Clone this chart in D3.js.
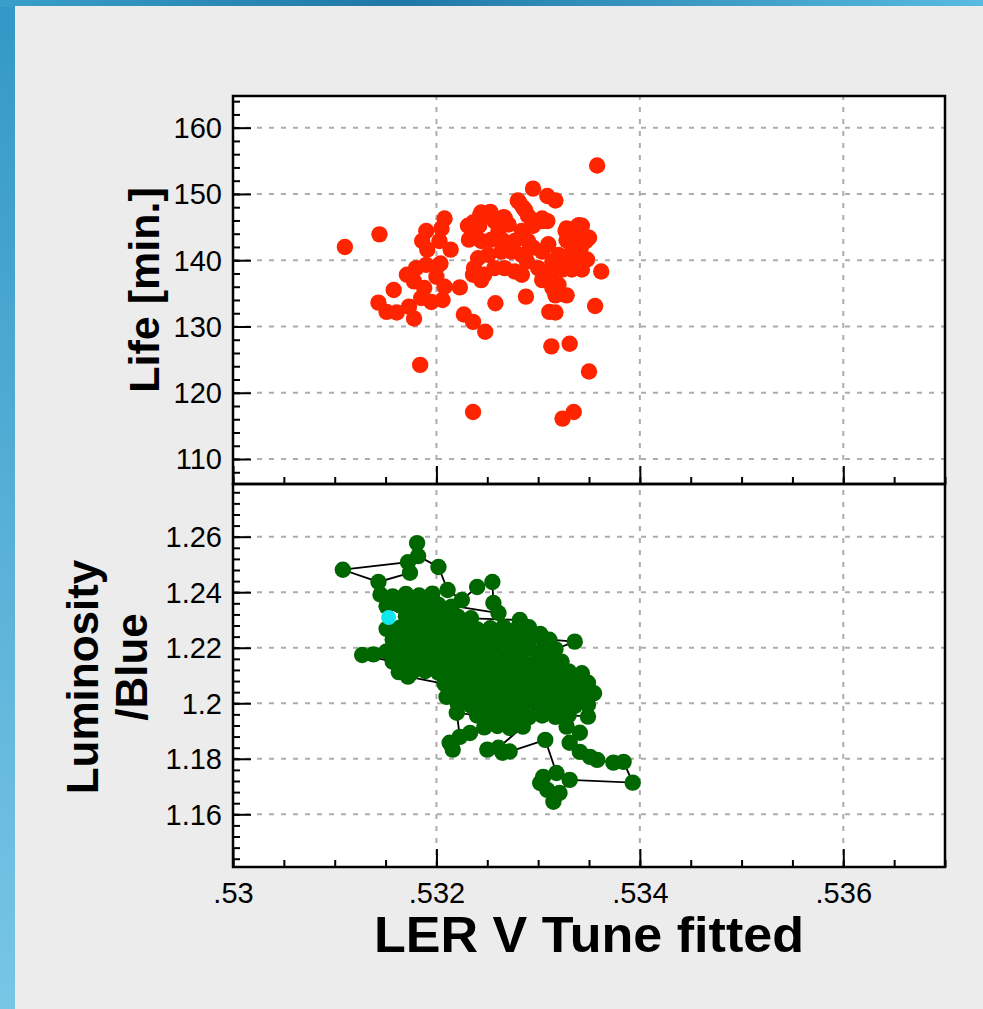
<!DOCTYPE html>
<html><head><meta charset="utf-8">
<script src="https://cdn.jsdelivr.net/npm/d3@7"></script>
<style>html,body{margin:0;padding:0;overflow:hidden;background:#ececec}</style>
</head><body>
<svg id="c" width="983" height="1009"></svg>
<script>
const xTickValues=[0.530,0.532,0.534,0.536];
const xTickLabels=[".53",".532",".534",".536"];
const lifeTickValues=[110,120,130,140,150,160];
const lifeTickLabels=["110","120","130","140","150","160"];
const lumTickValues=[1.16,1.18,1.20,1.22,1.24,1.26];
const lumTickLabels=["1.16","1.18","1.2","1.22","1.24","1.26"];
const xTitle="LER V Tune fitted";
const lifeTitle="Life [min.]";
const lumTitle=["Luminosity","/Blue"];

const lifePoints=[
[0.53358,154.3],[0.53110,142.0],[0.53144,143.9],[0.53184,124.2],[0.53236,117.1],[0.53324,116.1],[0.53335,117.1],[0.53350,123.2],[0.53313,127.0],[0.53331,127.4],[0.53356,133.1],[0.53295,150.8],[0.53309,149.7],[0.53317,149.0],[0.53362,138.3],[0.53258,133.5],[0.53288,134.5],[0.53248,129.2],[0.53214,141.6],[0.53223,135.9],[0.53158,135.5],[0.53311,132.2],[0.53317,132.1],[0.53208,146.3],[0.53227,131.8],[0.53236,130.7],
[0.53143,133.6],[0.53151,132.2],[0.53161,132.1],[0.53173,133.0],[0.53178,131.2],
[0.53180,138.8],[0.53190,139.3],[0.53178,136.8],[0.53188,135.8],[0.53195,133.7],[0.53206,134.0],[0.53208,136.0],[0.53200,137.5],[0.53185,134.3],[0.53201,139.1],[0.53171,137.8],
[0.53190,144.4],[0.53191,141.6],[0.53203,142.9],[0.53205,144.8],[0.53186,142.9],[0.53204,139.5],
[0.53244,147.2],[0.53251,146.7],[0.53236,145.7],[0.53231,145.2],[0.53232,143.1],[0.53242,145.2],[0.53257,145.9],[0.53267,146.4],[0.53271,145.4],[0.53261,144.4],[0.53254,143.1],[0.53244,142.9],[0.53266,142.9],[0.53280,149.0],[0.53285,148.0],[0.53290,146.7],[0.53295,145.2],[0.53304,145.9],[0.53309,145.9],[0.53284,144.4],[0.53277,142.9],[0.53290,142.9],[0.53295,141.9],[0.53304,141.3],[0.53310,142.4],[0.53274,141.3],[0.53284,140.8],[0.53289,139.8],[0.53264,141.3],[0.53251,140.8],[0.53241,140.3],[0.53237,138.8],[0.53247,137.8],[0.53244,137.0],[0.53257,138.8],[0.53267,138.8],[0.53277,138.3],[0.53284,137.8],[0.53300,138.8],[0.53307,137.8],[0.53304,137.0],[0.53314,138.3],[0.53324,138.6],[0.53333,138.6],[0.53343,138.6],[0.53320,136.3],[0.53328,134.7],[0.53317,134.7],[0.53314,135.8],[0.53327,144.4],[0.53337,144.9],[0.53343,145.2],[0.53350,143.4],[0.53337,142.9],[0.53342,141.9],[0.53347,142.9],[0.53333,141.3],[0.53320,140.8],[0.53314,139.8],[0.53327,139.8],[0.53337,139.8],[0.53348,140.1],[0.53236,137.8],
[0.53281,148.8],[0.53287,147.6],[0.53295,146.0],[0.53304,146.3],[0.53243,146.8],[0.53253,147.3],[0.53266,146.5],[0.53238,144.5],[0.53328,144.8],[0.53340,145.3],[0.53346,143.5],[0.53328,143.0]
];

const lumPoints=[
[0.53174,1.2470],[0.53143,1.2437],[0.53108,1.2481],[0.53172,1.2508],[0.53181,1.2577],[0.53182,1.2530],[0.53202,1.2491],[0.53211,1.2408],[0.53225,1.2372],[0.53240,1.2419],[0.53255,1.2437],[0.53256,1.2361],[0.53261,1.2325],
[0.53145,1.2392],[0.53157,1.2385],[0.53170,1.2394],[0.53183,1.2388],[0.53196,1.2395],
[0.53215,1.2348],[0.53202,1.2355],[0.53189,1.2350],[0.53176,1.2346],[0.53164,1.2353],[0.53151,1.2349],
[0.53170,1.2313],[0.53183,1.2308],[0.53196,1.2315],[0.53208,1.2309],[0.53221,1.2312],[0.53234,1.2306],[0.53282,1.2300],
[0.53291,1.2274],[0.53279,1.2268],[0.53266,1.2275],[0.53253,1.2270],[0.53240,1.2266],[0.53228,1.2273],[0.53215,1.2269],[0.53202,1.2276],[0.53189,1.2270],[0.53176,1.2265],[0.53164,1.2272],[0.53151,1.2268],
[0.53157,1.2230],[0.53170,1.2235],[0.53183,1.2228],[0.53196,1.2233],[0.53208,1.2237],[0.53221,1.2229],[0.53234,1.2234],[0.53247,1.2231],[0.53260,1.2227],[0.53272,1.2236],[0.53285,1.2232],[0.53298,1.2240],[0.53302,1.2250],[0.53311,1.2229],[0.53336,1.2222],
[0.53317,1.2195],[0.53304,1.2190],[0.53291,1.2197],[0.53279,1.2189],[0.53266,1.2194],[0.53253,1.2191],[0.53240,1.2196],[0.53228,1.2188],[0.53215,1.2193],[0.53202,1.2190],[0.53189,1.2195],[0.53176,1.2189],[0.53164,1.2193],[0.53151,1.2187],[0.53138,1.2176],[0.53127,1.2174],
[0.53157,1.2150],[0.53170,1.2155],[0.53183,1.2148],[0.53196,1.2153],[0.53208,1.2157],[0.53221,1.2149],[0.53234,1.2154],[0.53247,1.2151],[0.53260,1.2146],[0.53272,1.2155],[0.53285,1.2152],[0.53298,1.2149],[0.53311,1.2156],[0.53323,1.2150],
[0.53343,1.2108],[0.53330,1.2115],[0.53317,1.2110],[0.53304,1.2116],[0.53291,1.2112],[0.53279,1.2108],[0.53266,1.2114],[0.53253,1.2111],[0.53240,1.2117],[0.53228,1.2109],[0.53215,1.2113],[0.53202,1.2110],[0.53189,1.2116],[0.53176,1.2111],[0.53163,1.2112],[0.53172,1.2096],
[0.53208,1.2070],[0.53221,1.2075],[0.53234,1.2068],[0.53247,1.2074],[0.53260,1.2077],[0.53272,1.2071],[0.53285,1.2076],[0.53298,1.2069],[0.53311,1.2073],[0.53323,1.2078],[0.53336,1.2070],[0.53349,1.2074],
[0.53355,1.2036],[0.53343,1.2031],[0.53330,1.2037],[0.53317,1.2032],[0.53304,1.2035],[0.53291,1.2029],[0.53279,1.2036],[0.53266,1.2033],[0.53253,1.2038],[0.53240,1.2030],[0.53228,1.2035],[0.53215,1.2032],[0.53210,1.2023],
[0.53221,1.1998],[0.53234,1.1991],[0.53247,1.1996],[0.53260,1.1990],[0.53272,1.1997],[0.53285,1.1993],[0.53298,1.1999],[0.53311,1.1992],[0.53323,1.1996],[0.53336,1.1990],[0.53349,1.1995],
[0.53349,1.1952],[0.53330,1.1957],[0.53317,1.1951],[0.53304,1.1956],[0.53291,1.1950],[0.53279,1.1955],[0.53266,1.1958],[0.53253,1.1952],[0.53240,1.1956],[0.53220,1.1966],
[0.53223,1.1879],[0.53213,1.1858],[0.53216,1.1833],[0.53233,1.1893],
[0.53247,1.1913],[0.53260,1.1918],[0.53272,1.1911],[0.53285,1.1916],
[0.53261,1.1840],[0.53250,1.1833],[0.53265,1.1822],[0.53272,1.1826],
[0.53307,1.1868],
[0.53318,1.1749],[0.53305,1.1735],[0.53302,1.1713],[0.53309,1.1688],[0.53315,1.1645],[0.53321,1.1677],[0.53331,1.1724],
[0.53393,1.1714],[0.53384,1.1789],[0.53374,1.1786],[0.53358,1.1796],[0.53351,1.1807],[0.53341,1.1825],[0.53331,1.1858],[0.53341,1.1894],[0.53328,1.1916]
];
const cyanPoint=[[0.53153,1.2309]];

const svg=d3.select("#c");
const W=983,H=1009;
const defs=svg.append("defs");
const gTop=defs.append("linearGradient").attr("id","gt").attr("x1","0").attr("x2","1").attr("y1","0").attr("y2","0");
gTop.append("stop").attr("offset","0").attr("stop-color","#3a9fcb");
gTop.append("stop").attr("offset","0.4").attr("stop-color","#1f78a8");
gTop.append("stop").attr("offset","1").attr("stop-color","#58bbe0");
const gLeft=defs.append("linearGradient").attr("id","gl").attr("x1","0").attr("x2","0").attr("y1","0").attr("y2","1");
gLeft.append("stop").attr("offset","0").attr("stop-color","#3398c6");
gLeft.append("stop").attr("offset","1").attr("stop-color","#78c6e6");
svg.append("rect").attr("x",0).attr("y",0).attr("width",W).attr("height",H).attr("fill","url(#gl)");
svg.append("rect").attr("x",0).attr("y",0).attr("width",W).attr("height",7).attr("fill","url(#gt)");
svg.append("rect").attr("x",15).attr("y",6).attr("width",W-15).attr("height",H-6).attr("fill","#ececec");

const L=233,R=945,T1=96,B1=484,T2=484,B2=867;
const x=d3.scaleLinear([0.530,0.537],[L,R]);
const yLife=d3.scaleLinear([106.23,164.78],[B1,T1]);
const yLum=d3.scaleLinear([1.14102,1.27898],[B2,T2]);
const R_PT=8.2;

const font='"Liberation Sans", Arial, Helvetica, sans-serif';

function panel(y,top,bottom,tickVals,tickLabs,minorStep,showXLabels){
  const g=svg.append("g");
  g.append("rect").attr("x",L).attr("y",top).attr("width",R-L).attr("height",bottom-top).attr("fill","#fff");
  const grid=g.append("g").attr("stroke","#adadad").attr("stroke-width",2).attr("stroke-dasharray","5,7");
  xTickValues.slice(1).forEach(v=>grid.append("line").attr("x1",x(v)).attr("x2",x(v)).attr("y1",bottom).attr("y2",top));
  tickVals.forEach(v=>grid.append("line").attr("x1",L).attr("x2",R).attr("y1",y(v)).attr("y2",y(v)));
  const d=y.domain();
  const minor=d3.range(Math.ceil(d[0]/minorStep)*minorStep,d[1],minorStep);
  const ym=g.append("g").attr("transform",`translate(${L},0)`)
    .call(d3.axisLeft(y).tickValues(minor).tickSize(-7).tickFormat(""));
  ym.select(".domain").remove();
  ym.selectAll("line").attr("stroke","#000").attr("stroke-width",2);
  const ya=g.append("g").attr("transform",`translate(${L},0)`)
    .call(d3.axisLeft(y).tickValues(tickVals).tickSize(-18).tickPadding(11).tickFormat((v,i)=>tickLabs[i]));
  ya.select(".domain").remove();
  ya.selectAll("line").attr("stroke","#000").attr("stroke-width",2);
  ya.selectAll("text").attr("font-family",font).attr("font-size",29).attr("fill","#000").attr("dy","0.34em");
  const xm=g.append("g").attr("transform",`translate(0,${bottom})`)
    .call(d3.axisBottom(x).ticks(14).tickSize(-7).tickFormat(""));
  xm.select(".domain").remove();
  xm.selectAll("line").attr("stroke","#000").attr("stroke-width",2);
  const xa=g.append("g").attr("transform",`translate(0,${bottom})`)
    .call(d3.axisBottom(x).tickValues(xTickValues).tickSize(-18).tickPadding(15).tickFormat((v,i)=>showXLabels?xTickLabels[i]:""));
  xa.select(".domain").remove();
  xa.selectAll("line").attr("stroke","#000").attr("stroke-width",2);
  xa.selectAll("text").attr("font-family",font).attr("font-size",29).attr("fill","#000");
  return g;
}

const p1=panel(yLife,T1,B1,lifeTickValues,lifeTickLabels,2,false);
const p2=panel(yLum,T2,B2,lumTickValues,lumTickLabels,0.004,true);

p1.append("g").selectAll("circle").data(lifePoints).join("circle")
  .attr("cx",d=>x(d[0])).attr("cy",d=>yLife(d[1])).attr("r",R_PT).attr("fill","#ff2400");

const line=d3.line().x(d=>x(d[0])).y(d=>yLum(d[1]));
p2.append("path").datum(lumPoints).attr("d",line).attr("fill","none").attr("stroke","#000").attr("stroke-width",1.8);
p2.append("g").selectAll("circle").data(lumPoints).join("circle")
  .attr("cx",d=>x(d[0])).attr("cy",d=>yLum(d[1])).attr("r",R_PT).attr("fill","#006600");
p2.append("g").selectAll("circle").data(cyanPoint).join("circle")
  .attr("cx",d=>x(d[0])).attr("cy",d=>yLum(d[1])).attr("r",7.5).attr("fill","#10e6ee");

[[T1,B1],[T2,B2]].forEach(([t,b])=>svg.append("rect").attr("x",L).attr("y",t).attr("width",R-L).attr("height",b-t)
  .attr("fill","none").attr("stroke","#000").attr("stroke-width",2.5));

svg.append("text").attr("x",(L+R)/2).attr("y",952).attr("text-anchor","middle")
  .attr("font-family",font).attr("font-weight","bold").attr("font-size",50)
  .attr("textLength",430).attr("lengthAdjust","spacingAndGlyphs").text(xTitle);
svg.append("text").attr("transform","translate(159,290) rotate(-90)").attr("text-anchor","middle")
  .attr("font-family",font).attr("font-weight","bold").attr("font-size",43).text(lifeTitle);
svg.append("text").attr("transform","translate(98,677) rotate(-90)").attr("text-anchor","middle")
  .attr("font-family",font).attr("font-weight","bold").attr("font-size",44).text(lumTitle[0]);
svg.append("text").attr("transform","translate(147,667) rotate(-90)").attr("text-anchor","middle")
  .attr("font-family",font).attr("font-weight","bold").attr("font-size",44).text(lumTitle[1]);
</script>
</body></html>
